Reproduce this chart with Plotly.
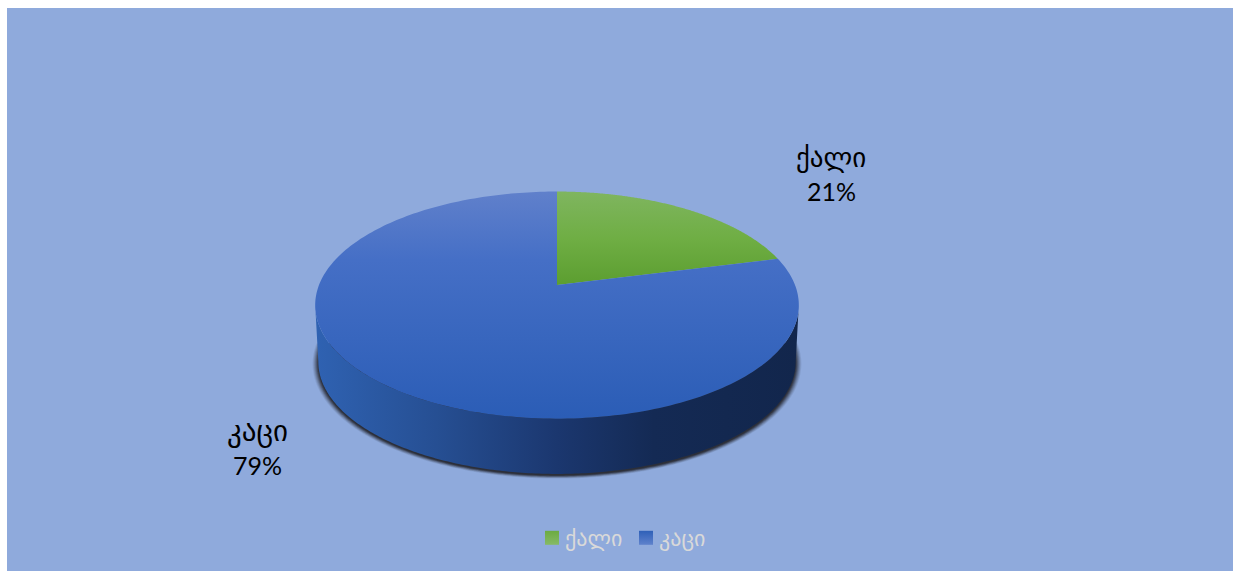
import numpy as np
import plotly.graph_objects as go

categories = ["ქალი", "კაცი"]
values = [21, 79]
top_gradients = [
    [[0, "#7FB55F"], [0.5, "#6FAE44"], [1, "#5C9E30"]],
    [[0, "#6080CB"], [0.3, "#456FC6"], [1, "#2B5DB6"]],
]
gradient_ranges = [(192, 285), (192, 418)]
legend_colors = ["#6CAB41", "#2F60B8"]
legend_light = ["#86BA66", "#5F82CC"]
name_positions = [(831, 157), (257, 431)]
name_sizes = [27, 29]
percent_positions = [(831, 191), (257, 465)]
side_gradient = [[0, "#2F62B2"], [0.25, "#264F93"], [0.5, "#1B376F"], [0.7, "#142A54"], [1, "#12264C"]]

# projection of the pie disc on the page (perspective)
CX, CY = 557, 285
C, D, K = 238, 110, 0.177
DEPTH = 57
BOTTOM_SCALE = 0.987


def project(theta, scale=1.0, dy=0.0):
    u, v = np.sin(theta), np.cos(theta)
    w = 1 + K * v
    return CX + scale * C * u / w, CY + dy - scale * D * v / w


fig = go.Figure()
# silhouette: the widest points of the disc sit slightly in front of its centre
widest = np.arccos(-K)
front = np.linspace(widest, 2 * np.pi - widest, 240)
front_top = project(front)
front_bottom = project(front[::-1], BOTTOM_SCALE, DEPTH)

# drop shadow
shadow_arc = np.linspace(np.pi / 2, 3 * np.pi / 2, 240)
for grow, op in [(1.024, 0.08), (1.020, 0.12), (1.016, 0.16), (1.012, 0.22),
                 (1.008, 0.3), (1.004, 0.38), (1.0, 0.45)]:
    sx, sy = project(shadow_arc, BOTTOM_SCALE * grow, DEPTH)
    fig.add_trace(go.Scatter(
        x=np.r_[sx, sx[0]], y=np.r_[sy, sy[0]] + 1.5, fill="toself", mode="none",
        fillcolor=f"rgba(30,30,35,{op})", showlegend=False, hoverinfo="skip",
    ))

# side wall
fig.add_trace(go.Scatter(
    x=np.r_[front_top[0], front_bottom[0]], y=np.r_[front_top[1], front_bottom[1]],
    fill="toself", mode="none", showlegend=False, hoverinfo="skip",
    fillgradient=dict(type="horizontal", colorscale=side_gradient, start=315, stop=799),
))

# top slices
start = 0.0
total = sum(values)
for name, val, grad, rng in zip(categories, values, top_gradients, gradient_ranges):
    a0, a1 = start, start + 2 * np.pi * val / total
    t = np.linspace(a0, a1, 240)
    px, py = project(t)
    fig.add_trace(go.Scatter(
        x=np.r_[CX, px, CX], y=np.r_[CY, py, CY], fill="toself", mode="none",
        showlegend=False, hoverinfo="skip",
        fillgradient=dict(type="vertical", colorscale=grad, start=rng[0], stop=rng[1]),
    ))
    start = a1

# legend entries
for name, col, light in zip(categories, legend_colors, legend_light):
    fig.add_trace(go.Scatter(
        x=[None], y=[None], mode="markers", name=name,
        marker=dict(symbol="square", size=14, color=col,
                    gradient=dict(type="vertical", color=light)),
    ))

# data labels
for name, val, (nx, ny), size, (vx, vy) in zip(categories, values, name_positions, name_sizes, percent_positions):
    fig.add_annotation(
        x=nx, y=ny, xref="x", yref="y", showarrow=False, text=name,
        font=dict(family="'DejaVu Sans', sans-serif", size=size, color="#000000"),
    )
    fig.add_annotation(
        x=vx, y=vy, xref="x", yref="y", showarrow=False, text=f"{val}%",
        font=dict(family="Lato, sans-serif", size=25, color="#000000"),
    )

fig.update_layout(
    width=1233, height=571, autosize=False,
    margin=dict(l=7, r=0, t=8, b=0),
    paper_bgcolor="#FFFFFF", plot_bgcolor="#8FAADC",
    xaxis=dict(range=[7, 1233], visible=False, fixedrange=True),
    yaxis=dict(range=[571, 8], visible=False, fixedrange=True),
    legend=dict(
        orientation="h", x=0.4992, xanchor="center", y=0.0213, yanchor="bottom",
        font=dict(family="'DejaVu Sans', sans-serif", size=22, color="#D9D9D9"),
        bgcolor="rgba(0,0,0,0)", itemwidth=30, entrywidth=49,
    ),
    showlegend=True,
)

fig.write_html(
    "out.html",
    config={"displayModeBar": False},
    post_script=(
        "document.body.style.margin='0';document.body.style.overflow='hidden';"
        "document.querySelectorAll('.legendsymbols').forEach(function(e){"
        "e.setAttribute('transform','translate(7,0)');});"
    ),
)
